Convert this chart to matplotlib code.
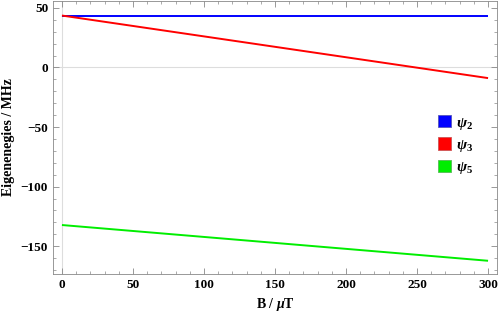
import matplotlib
matplotlib.use("Agg")
import matplotlib.pyplot as plt
from matplotlib.patches import Patch
from matplotlib.ticker import MultipleLocator

B = [0, 300]
psi2 = [43.6, 43.6]
psi3 = [43.6, -8.9]
psi5 = [-132.2, -162.2]
labels = [r"$\psi_2$", r"$\psi_3$", r"$\psi_5$"]
colors = ["#0000ff", "#ff0000", "#00ee00"]
edges = ["#5555bb", "#cc5555", "#55bb55"]
xticks = [0, 50, 100, 150, 200, 250, 300]
yticks = [-150, -100, -50, 0, 50]

plt.rcParams['font.family'] = ['Liberation Serif', 'DejaVu Serif']
plt.rcParams['mathtext.fontset'] = 'custom'
plt.rcParams['mathtext.rm'] = 'Liberation Serif:bold'
plt.rcParams['mathtext.it'] = 'Liberation Serif:italic:bold'
plt.rcParams['mathtext.bf'] = 'Liberation Serif:bold'

fig = plt.figure(figsize=(4.98, 3.12), dpi=100)
ax = fig.add_axes([0.1064, 0.1218, 0.8916, 0.875])

ax.axhline(0, color="#dddddd", lw=0.8, zorder=0)
ax.axvline(0, color="#dddddd", lw=0.8, zorder=0)

for y, c in zip([psi2, psi3, psi5], colors):
    ax.plot(B, y, color=c, lw=1.4, solid_capstyle='butt')

ax.set_xlim(-6.3, 306.3)
ax.set_ylim(-173.3, 55.8)
ax.set_xticks(xticks)
ax.set_yticks(yticks)
ax.set_xticklabels([str(v) for v in xticks])
ax.set_yticklabels([str(v).replace('-', '\u2212') for v in yticks])
ax.xaxis.set_minor_locator(MultipleLocator(10))
ax.yaxis.set_minor_locator(MultipleLocator(10))
ax.tick_params(which='both', direction='in', top=True, right=True, color='#888888')
ax.tick_params(which='major', length=4, width=0.6, labelsize=9.5)
ax.tick_params(which='minor', length=2.5, width=0.5)
for lab in ax.get_xticklabels() + ax.get_yticklabels():
    lab.set_fontweight('bold')
for s in ax.spines.values():
    s.set_color('#888888')
    s.set_linewidth(0.6)

ax.set_xlabel(r"B / $\mathit{\mu}$T", fontsize=10, fontweight='bold', labelpad=3.5)
ax.set_ylabel("Eigenenegies / MHz", fontsize=10, fontweight='bold', labelpad=4)

handles = [Patch(facecolor=c, edgecolor=e, lw=0.6) for c, e in zip(colors, edges)]
ax.legend(handles, labels, loc='center left', bbox_to_anchor=(0.867, 0.47),
          frameon=False, fontsize=11, handlelength=0.85, handleheight=0.85,
          handletextpad=0.3, labelspacing=0.38, borderpad=0, borderaxespad=0)

fig.savefig("out.png", dpi=100)
